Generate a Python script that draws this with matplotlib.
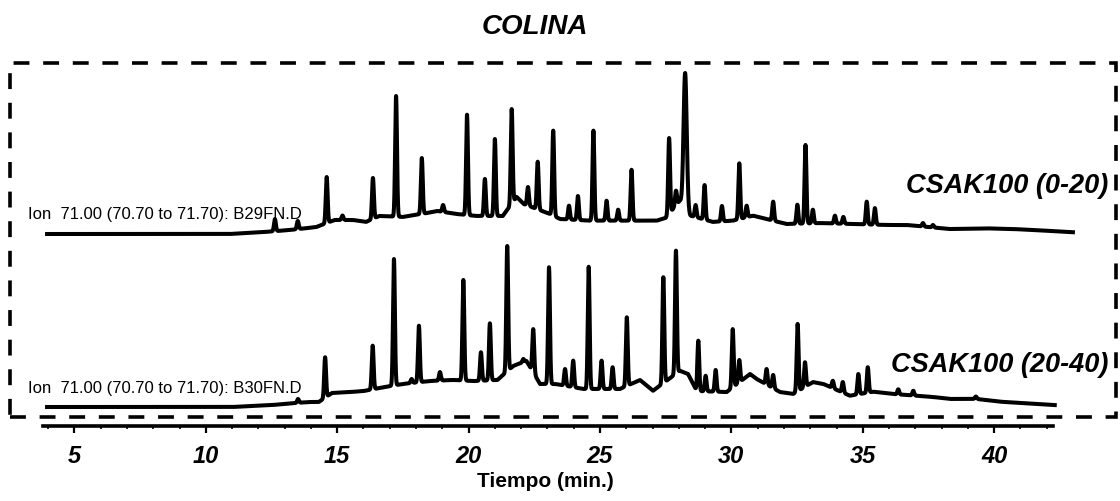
#!/usr/bin/env python
"""
Ion 71 chromatograms for the COLINA soil samples (CSAK100, two depths)
"""

import numpy as np
import matplotlib.pyplot as plt
from matplotlib.patches import Rectangle
from matplotlib.ticker import FixedLocator

# retention time (min) and abundance (% of largest peak)
# upper trace: CSAK100 (0-20), B29FN.D
top_base_t = [3.96, 10.9, 12.2, 13.2, 14.2, 14.9, 15.6, 16.1, 16.6, 17.5, 18.4, 18.8,
              19.55, 20.3, 21.3, 21.83, 22.1, 23.1, 23.48, 24.62, 25.88, 27.16, 27.5,
              28.04, 28.43, 29.3, 30.06, 30.82, 31.58, 32.1, 33.37, 35.9, 36.67, 38.3,
              39.71, 40.72, 41.48, 43.0]
top_base_v = [0, 0, 1.2, 2.5, 4.3, 8.7, 8.7, 7.5, 11.2, 10.6, 13, 14.3,
              12.4, 11.2, 11.2, 23, 18.6, 12.4, 9.3, 8.3, 8.3, 8.3, 10,
              20.7, 11.4, 7.5, 8.3, 11.4, 8.3, 6.2, 6.8, 5.6, 5.6, 3.1,
              3.5, 3.1, 2.5, 1.1]
top_peak_t = [12.63, 13.5, 14.6, 15.2, 16.36, 17.24, 18.22, 19.03, 19.94, 20.62, 21.0,
              21.64, 22.26, 22.63, 23.22, 23.82, 24.16, 24.75, 25.25, 25.69, 26.2,
              27.63, 27.89, 28.24, 28.64, 28.98, 29.64, 30.3, 30.58, 31.59, 32.51,
              32.82, 33.1, 33.94, 34.26, 35.15, 35.46, 37.29, 37.67]
top_peak_v = [9.3, 8.1, 35.4, 11.5, 34.8, 85.7, 47.2, 18, 74.1, 34.2, 59,
              77.6, 29.2, 44.9, 64.2, 17.6, 23.6, 64.2, 20.7, 15.1, 39.9,
              59.6, 26.9, 100, 18, 30.4, 17.4, 43.9, 17.6, 20.1, 18.2,
              55.3, 15.1, 11.4, 10.6, 20.1, 16.1, 6.8, 5.6]

# lower trace: CSAK100 (20-40), B30FN.D
bot_base_t = [3.96, 11.0, 12.5, 13.9, 14.3, 14.8, 15.5, 16.0, 16.8, 17.5, 18.5, 19.4,
              20.2, 21.1, 21.7, 22.2, 22.72, 23.3, 24.37, 25.76, 26.52, 27.02, 28.04,
              28.35, 28.68, 29.82, 30.71, 30.96, 31.85, 32.35, 33.1, 33.5, 34.51, 35.4,
              36.15, 37.68, 38.32, 39.33, 40.22, 42.31]
bot_base_v = [0, 0, 1.2, 3.1, 3.1, 8.7, 9.3, 9.9, 12.4, 14.3, 16.1, 16.8,
              16.1, 16.8, 25.5, 28.6, 14.3, 14.3, 11.2, 11.2, 16.8, 10.1, 22.5,
              20.5, 9.9, 9.3, 20.5, 17.4, 9.3, 8.1, 15.5, 14.3, 7.0, 9.5,
              8.1, 6.2, 5.0, 5.0, 3.3, 1.2]
bot_peak_t = [13.51, 14.54, 16.35, 17.16, 17.83, 18.11, 18.91, 19.8, 20.47, 20.81, 21.47,
              22.08, 22.46, 23.06, 23.67, 23.98, 24.57, 25.06, 25.48, 26.02, 27.41,
              27.89, 28.74, 29.02, 29.4, 30.05, 30.3, 31.34, 31.59, 32.52, 32.8,
              33.86, 34.24, 34.83, 35.19, 36.35, 36.92, 39.3]
bot_peak_v = [5.0, 30.9, 38.1, 91.9, 17.4, 50.5, 21.7, 78.9, 34, 52, 100,
              29.8, 48.4, 86.8, 23.6, 28.8, 87.1, 28.8, 24.7, 55.7, 80.6,
              97.1, 41.2, 19.4, 23, 48.4, 29.2, 23.6, 19.9, 51.6, 27.8,
              16.3, 15.5, 20.5, 24.7, 11, 10.1, 6.5]

top_label = 'Ion  71.00 (70.70 to 71.70): B29FN.D'
bot_label = 'Ion  71.00 (70.70 to 71.70): B30FN.D'
top_name = 'CSAK100 (0-20)'
bot_name = 'CSAK100 (20-40)'
major_ticks = [5, 10, 15, 20, 25, 30, 35, 40]
minor_ticks = list(range(4, 43))

W, H = 1120, 502
ARIAL = ['Liberation Sans', 'DejaVu Sans']


def build_trace(base_t, base_v, peak_t, peak_v, wide=()):
    # baseline through the read points, each peak put on top of it
    t = np.arange(base_t[0], base_t[-1], 0.005)
    y = np.interp(t, base_t, base_v)
    for tp, vp in zip(peak_t, peak_v):
        s = 0.06 if tp in wide else 0.035
        h = vp - np.interp(tp, base_t, base_v)
        y = y + h * np.exp(-0.5 * ((t - tp) / s) ** 2)
    return t, y


fig = plt.figure(figsize=(W / 100, H / 100), dpi=100)
ax = fig.add_axes([0, 0, 1, 1])
ax.patch.set_alpha(0)

# x in minutes, y in pixels from the top of the picture
ax.set_xlim(57 / 26.28, (W + 57) / 26.28)
ax.set_ylim(H, 0)

scale = 1.61
t, y = build_trace(top_base_t, top_base_v, top_peak_t, top_peak_v, wide=(28.24,))
ax.plot(t, 235 - scale * y, color='black', lw=2.9, solid_joinstyle='round')
t, y = build_trace(bot_base_t, bot_base_v, bot_peak_t, bot_peak_v)
ax.plot(t, 408 - scale * y, color='black', lw=2.9, solid_joinstyle='round')

# axis
for side in ['top', 'left', 'right']:
    ax.spines[side].set_visible(False)
ax.spines['bottom'].set_position(('data', 427))
ax.spines['bottom'].set_bounds(3.8, 42.25)
ax.spines['bottom'].set_linewidth(2.6)
ax.yaxis.set_visible(False)
ax.set_xticks(major_ticks)
ax.xaxis.set_minor_locator(FixedLocator(minor_ticks))
ax.tick_params(axis='x', which='major', direction='out', length=5, width=1.6, pad=8)
ax.tick_params(axis='x', which='minor', direction='out', length=2.5, width=1.2)
for lab in ax.get_xticklabels():
    lab.set_fontfamily(ARIAL)
    lab.set_fontsize(17)
    lab.set_fontweight('bold')
    lab.set_fontstyle('italic')

# dashed frame
fig.patches.append(Rectangle((10 / W, 1 - 418 / H), 1106 / W, 354 / H,
                             transform=fig.transFigure, fill=False, color='black',
                             lw=2.6, linestyle=(0, (4.4, 3.8))))

fig.text(535 / W, 1 - 27 / H, 'COLINA', ha='center', va='center', family=ARIAL,
         fontsize=20, fontweight='bold', fontstyle='italic')
fig.text(28 / W, 1 - 215 / H, top_label, ha='left', va='center', family=ARIAL, fontsize=12)
fig.text(28 / W, 1 - 389 / H, bot_label, ha='left', va='center', family=ARIAL, fontsize=12)
fig.text(1108 / W, 1 - 186 / H, top_name, ha='right', va='center', family=ARIAL,
         fontsize=19.5, fontweight='bold', fontstyle='italic')
fig.text(1108 / W, 1 - 365 / H, bot_name, ha='right', va='center', family=ARIAL,
         fontsize=19.5, fontweight='bold', fontstyle='italic')
fig.text(545 / W, 1 - 482 / H, 'Tiempo (min.)', ha='center', va='center', family=ARIAL,
         fontsize=15, fontweight='bold')

fig.savefig('out.png', dpi=100)
